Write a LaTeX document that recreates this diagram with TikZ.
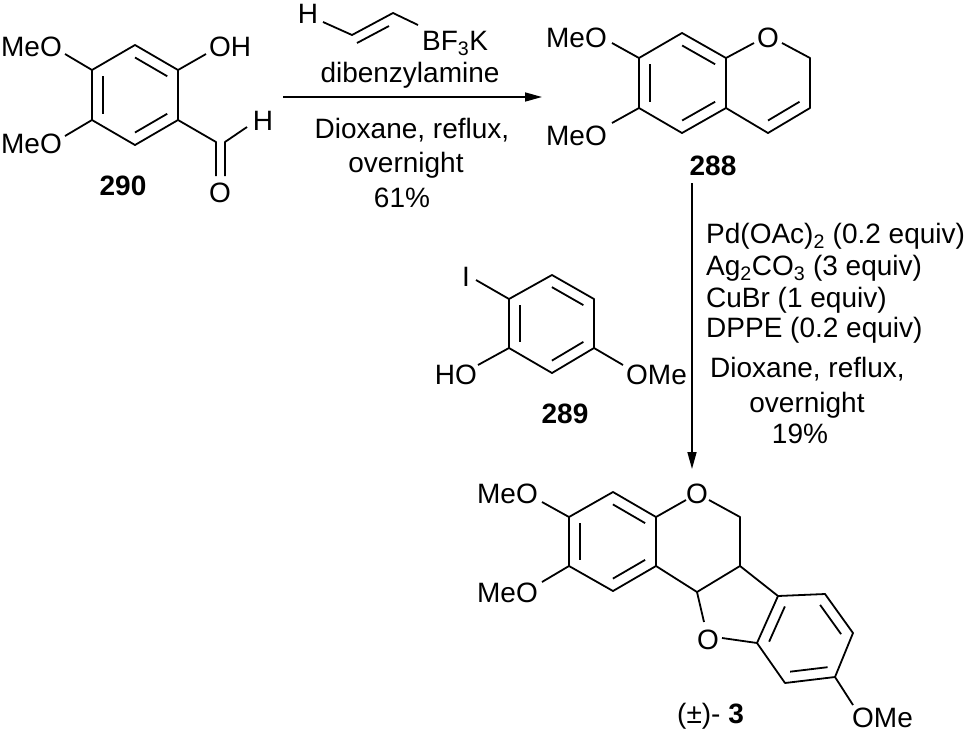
\documentclass[tikz,border=0pt]{standalone}
\usepackage{fontspec}
\setmainfont{Liberation Sans}
\usetikzlibrary{arrows.meta,calc}
\newcommand\innerbond[3]{\draw[bond] ($(#1)!0.25!(#3)$) -- ($(#2)!0.25!(#3)$);}
\begin{document}
\begin{tikzpicture}[x=1pt,y=-1pt,
  bond/.style={line width=1.8pt,line join=round},
  rarrow/.style={line width=1.6pt,-{Triangle[length=17pt,width=9pt]}},
  lbl/.style={inner sep=0pt,font=\fontsize{28}{32}\selectfont},
  cmpd/.style={lbl,font=\fontsize{28}{32}\selectfont\bfseries}]
\useasboundingbox (0,0) rectangle (969,732);
% ---------------- 290 ----------------
\coordinate (a1) at (135,45);
\coordinate (a2) at (178,70);
\coordinate (a3) at (178,120);
\coordinate (a4) at (135,145);
\coordinate (a5) at (92,120);
\coordinate (a6) at (92,70);
\coordinate (ac) at (135,95);
\draw[bond] (a1)--(a2)--(a3)--(a4)--(a5)--(a6)--cycle;
\innerbond{a6}{a5}{ac}\innerbond{a1}{a2}{ac}\innerbond{a3}{a4}{ac}
\coordinate (aOHb) at (206,54);
\draw[bond] (a2)--(aOHb);
\node[lbl,anchor=base west] (aOH) at (209,56) {OH};
\coordinate (aM1) at (65,54);
\coordinate (aM2) at (65,136);
\draw[bond] (a6)--(aM1);
\draw[bond] (a5)--(aM2);
\node[lbl,anchor=base east] (aMeO1) at (62,56) {MeO};
\node[lbl,anchor=base east] (aMeO2) at (62,153) {MeO};
\coordinate (aC) at (216,142);
\coordinate (aCb) at (216,176);
\coordinate (aC2) at (225,142);
\coordinate (aC2b) at (225,176);
\coordinate (aHb) at (247,127);
\draw[bond] (a3)--(aC)--(aCb);
\draw[bond] (aC2b)--(aC2)--(aHb);
\node[lbl,anchor=base] (aH) at (263,130) {H};
\node[lbl,anchor=base] (aO) at (220,202) {O};
\node[cmpd,anchor=base] (l290) at (123,195) {290};
% ---------------- arrow 1 ----------------
\coordinate (r1s) at (283,97);
\coordinate (r1e) at (542,97);
\draw[rarrow] (r1s)--(r1e);
\node[lbl,anchor=base] (vH) at (308,23) {H};
\coordinate (v1) at (323,22);
\coordinate (v2) at (352,35);
\coordinate (v3) at (393,13);
\coordinate (v4) at (418,25);
\coordinate (v5) at (357,43);
\coordinate (v6) at (389,26);
\draw[bond] (v1)--(v2)--(v3)--(v4);
\draw[bond] (v5)--(v6);
\node[lbl,anchor=base west] (vB) at (422,50) {BF\textsubscript{3}K};
\node[lbl,anchor=base] (t1) at (410,82) {dibenzylamine};
\node[lbl,anchor=base] (t2) at (412,138) {Dioxane, reflux,};
\node[lbl,anchor=base] (t3) at (406,172) {overnight};
\node[lbl,anchor=base] (t4) at (402,207) {61\%};
% ---------------- 288 ----------------
\coordinate (b1) at (682,33);
\coordinate (b2) at (726,58);
\coordinate (b3) at (726,108);
\coordinate (b4) at (682,133);
\coordinate (b5) at (639,108);
\coordinate (b6) at (639,58);
\coordinate (bc) at (682.5,83);
\coordinate (bO1) at (754,43);
\coordinate (bO2) at (782,43);
\coordinate (b7) at (810,58);
\coordinate (b8) at (810,108);
\coordinate (b9) at (768,133);
\coordinate (bc2) at (768,83);
\draw[bond] (b1)--(b2)--(b3)--(b4)--(b5)--(b6)--cycle;
\innerbond{b6}{b5}{bc}\innerbond{b1}{b2}{bc}\innerbond{b3}{b4}{bc}
\draw[bond] (b2)--(bO1);
\draw[bond] (bO2)--(b7)--(b8)--(b9)--(b3);
\innerbond{b8}{b9}{bc2}
\node[lbl,anchor=base] (bO) at (768,47) {O};
\coordinate (bM1) at (612,43);
\coordinate (bM2) at (612,123);
\draw[bond] (b6)--(bM1);
\draw[bond] (b5)--(bM2);
\node[lbl,anchor=base east] (bMeO1) at (607,47) {MeO};
\node[lbl,anchor=base east] (bMeO2) at (607,145) {MeO};
\node[cmpd,anchor=base] (l288) at (713,175) {288};
% ---------------- arrow 2 ----------------
\coordinate (r2s) at (692,183);
\coordinate (r2e) at (692,469);
\draw[rarrow] (r2s)--(r2e);
\node[lbl,anchor=base west] (c1) at (706,243) {Pd(OAc)\textsubscript{2} (0.2 equiv)};
\node[lbl,anchor=base west] (c2) at (706,275) {Ag\textsubscript{2}CO\textsubscript{3} (3 equiv)};
\node[lbl,anchor=base west] (c3) at (706,307) {CuBr (1 equiv)};
\node[lbl,anchor=base west] (c4) at (706,337) {DPPE (0.2 equiv)};
\node[lbl,anchor=base west] (c5) at (710,377) {Dioxane, reflux,};
\node[lbl,anchor=base] (c6) at (807,412) {overnight};
\node[lbl,anchor=base] (c7) at (800,443) {19\%};
% ---------------- 289 ----------------
\coordinate (c1a) at (552,275);
\coordinate (c2a) at (594,299);
\coordinate (c3a) at (594,348);
\coordinate (c4a) at (552,373);
\coordinate (c5a) at (509,348);
\coordinate (c6a) at (509,299);
\coordinate (cc) at (551.5,323.5);
\draw[bond] (c1a)--(c2a)--(c3a)--(c4a)--(c5a)--(c6a)--cycle;
\innerbond{c6a}{c5a}{cc}\innerbond{c1a}{c2a}{cc}\innerbond{c3a}{c4a}{cc}
\coordinate (cIb) at (476,280);
\coordinate (cHOb) at (478,365);
\coordinate (cOMeb) at (623,365);
\draw[bond] (c6a)--(cIb);
\draw[bond] (c5a)--(cHOb);
\draw[bond] (c3a)--(cOMeb);
\node[lbl,anchor=base] (cI) at (466,286) {I};
\node[lbl,anchor=base east] (cHO) at (477,384) {HO};
\node[lbl,anchor=base west] (cOMe) at (626,384) {OMe};
\node[cmpd,anchor=base] (l289) at (565,423) {289};
% ---------------- 3 ----------------
\coordinate (d1) at (613,492);
\coordinate (d2) at (656,517);
\coordinate (d3) at (656,566);
\coordinate (d4) at (613,591);
\coordinate (d5) at (569,566);
\coordinate (d6) at (569,517);
\coordinate (dc) at (612.5,541.5);
\draw[bond] (d1)--(d2)--(d3)--(d4)--(d5)--(d6)--cycle;
\innerbond{d6}{d5}{dc}\innerbond{d1}{d2}{dc}\innerbond{d3}{d4}{dc}
\coordinate (dO1a) at (686,500);
\coordinate (dO1b) at (709,500);
\coordinate (d7) at (740,517);
\coordinate (d8) at (740,566);
\coordinate (d9) at (697,592);
\coordinate (dO2a) at (704,622);
\coordinate (dO2b) at (722,638);
\draw[bond] (d2)--(dO1a);
\draw[bond] (dO1b)--(d7)--(d8)--(d9)--(d3);
\draw[bond] (d9)--(dO2a);
\node[lbl,anchor=base] (dO1) at (697,503) {O};
\node[lbl,anchor=base] (dO2) at (708,649) {O};
\coordinate (e1) at (757,643);
\coordinate (e2) at (778,596);
\coordinate (e3) at (825,594);
\coordinate (e4) at (853,633);
\coordinate (e5) at (835,677);
\coordinate (e6) at (785,683);
\coordinate (ec) at (805.5,637.7);
\draw[bond] (e1)--(e2)--(e3)--(e4)--(e5)--(e6)--cycle;
\innerbond{e1}{e2}{ec}\innerbond{e3}{e4}{ec}\innerbond{e5}{e6}{ec}
\draw[bond] (d8)--(e2);
\draw[bond] (dO2b)--(e1);
\coordinate (eOb) at (853,705);
\draw[bond] (e5)--(eOb);
\node[lbl,anchor=base west] (eOMe) at (852,727) {OMe};
\coordinate (dM1) at (542,502);
\coordinate (dM2) at (542,582);
\draw[bond] (d6)--(dM1);
\draw[bond] (d5)--(dM2);
\node[lbl,anchor=base east] (dMeO1) at (538,503) {MeO};
\node[lbl,anchor=base east] (dMeO2) at (538,602) {MeO};
\node[lbl,anchor=base west] (l3) at (677,723) {(±)- \textbf{3}};
\end{tikzpicture}
\end{document}
